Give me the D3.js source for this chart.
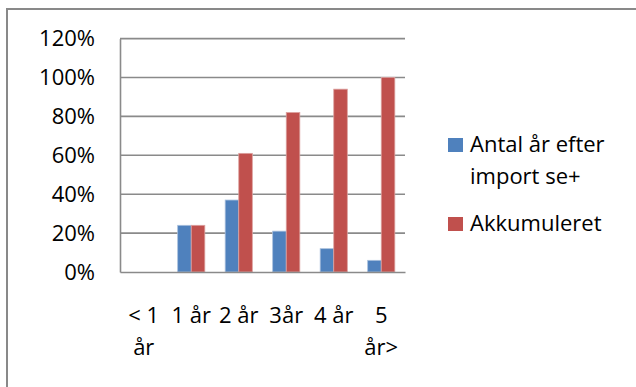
<!DOCTYPE html>
<html>
<head>
<meta charset="utf-8">
<script src="https://cdn.jsdelivr.net/npm/d3@7"></script>
<style>
  html, body { margin: 0; padding: 0; background: #fff; }
  svg { display: block; font-family: "Open Sans", "Noto Sans", sans-serif; }
</style>
</head>
<body>
<svg id="chart" width="636" height="387"></svg>
<script>
// Categories on the x axis
const categories = ["< 1 år", "1 år", "2 år", "3år", "4 år", "5 år>"];
// Series names
const seriesNames = ["Antal år efter import se+", "Akkumuleret"];
// Share per year and running total (fractions)
const perYear = [0, 0.24, 0.37, 0.21, 0.12, 0.06];
const cumulative = [0, 0.24, 0.61, 0.82, 0.94, 1.00];
// Y axis ticks
const yTicks = [0, 0.2, 0.4, 0.6, 0.8, 1.0, 1.2];
const colors = ["#4F81BD", "#C0504D"];
const fontSize = 22;

const svg = d3.select("#chart");

// chart frame
svg.append("rect")
  .attr("x", 7).attr("y", 9)
  .attr("width", 660).attr("height", 420)
  .attr("fill", "none")
  .attr("stroke", "#898989")
  .attr("stroke-width", 2);

const plotLeft = 120, plotRight = 405, plotTop = 38.6, plotBottom = 272;

const x0 = d3.scaleBand().domain(categories).range([plotLeft, plotRight]).padding(0);
const x1 = d3.scaleBand().domain(seriesNames).range([0, x0.bandwidth()])
  .paddingInner(0).paddingOuter(0.75);
const y = d3.scaleLinear().domain([0, 1.2]).range([plotBottom, plotTop]);

// horizontal gridlines
svg.append("g")
  .selectAll("line")
  .data(yTicks.filter(d => d > 0))
  .join("line")
  .attr("x1", plotLeft).attr("x2", plotRight)
  .attr("y1", d => y(d)).attr("y2", d => y(d))
  .attr("stroke", "#8a8a8a")
  .attr("stroke-width", 1.6);

// y axis
const yAxis = svg.append("g")
  .attr("transform", `translate(${plotLeft},0)`)
  .call(d3.axisLeft(y).tickValues(yTicks).tickFormat(d3.format(".0%")).tickSize(0).tickPadding(25));
yAxis.select(".domain").attr("stroke", "#8a8a8a").attr("stroke-width", 1.6);
yAxis.selectAll("text")
  .attr("font-size", fontSize)
  .attr("fill", "#000")
  .attr("font-family", "Open Sans, sans-serif");

// bars
const rows = categories.map((c, i) => ({ cat: c, vals: [perYear[i], cumulative[i]] }));
svg.append("g")
  .selectAll("g")
  .data(rows)
  .join("g")
  .attr("transform", d => `translate(${x0(d.cat)},0)`)
  .selectAll("rect")
  .data(d => d.vals.map((v, k) => ({ v, k })))
  .join("rect")
  .attr("x", d => x1(seriesNames[d.k]))
  .attr("width", x1.bandwidth())
  .attr("y", d => y(d.v))
  .attr("height", d => y(0) - y(d.v))
  .attr("fill", d => colors[d.k])
  .attr("stroke", d => d.k === 0 ? "#a9c0dd" : "#dca09e")
  .attr("stroke-width", d => d.v > 0 ? 0.8 : 0);

// x axis
const xAxis = svg.append("g")
  .attr("transform", `translate(0,${plotBottom})`)
  .call(d3.axisBottom(x0).tickSize(0).tickFormat(""));
xAxis.select(".domain").attr("stroke", "#8a8a8a").attr("stroke-width", 1.6);

// word wrap helper for SVG text
function wrap(textSel, width, lineHeight) {
  textSel.each(function () {
    const t = d3.select(this);
    const words = t.text().split(/\s+/);
    const xPos = t.attr("x");
    t.text(null);
    let line = [];
    let tspan = t.append("tspan").attr("x", xPos).attr("dy", 0);
    words.forEach(w => {
      line.push(w);
      tspan.text(line.join(" "));
      if (tspan.node().getComputedTextLength() > width && line.length > 1) {
        line.pop();
        tspan.text(line.join(" "));
        line = [w];
        tspan = t.append("tspan").attr("x", xPos).attr("dy", lineHeight).text(w);
      }
    });
  });
}

// category labels
svg.append("g")
  .selectAll("text")
  .data(categories)
  .join("text")
  .attr("x", d => x0(d) + x0.bandwidth() / 2)
  .attr("y", 323)
  .attr("text-anchor", "middle")
  .attr("font-size", fontSize)
  .attr("fill", "#000")
  .text(d => d)
  .call(wrap, x0.bandwidth(), 32);

// legend
const legendY = [138, 217];
const legend = svg.append("g")
  .selectAll("g")
  .data(seriesNames)
  .join("g")
  .attr("transform", (d, i) => `translate(448,${legendY[i]})`);
legend.append("rect")
  .attr("width", 15).attr("height", 14)
  .attr("fill", (d, i) => colors[i]);
legend.append("text")
  .attr("x", 22).attr("y", 14)
  .attr("font-size", fontSize)
  .attr("fill", "#000")
  .text(d => d)
  .call(wrap, 155, 31.5);
</script>
</body>
</html>
